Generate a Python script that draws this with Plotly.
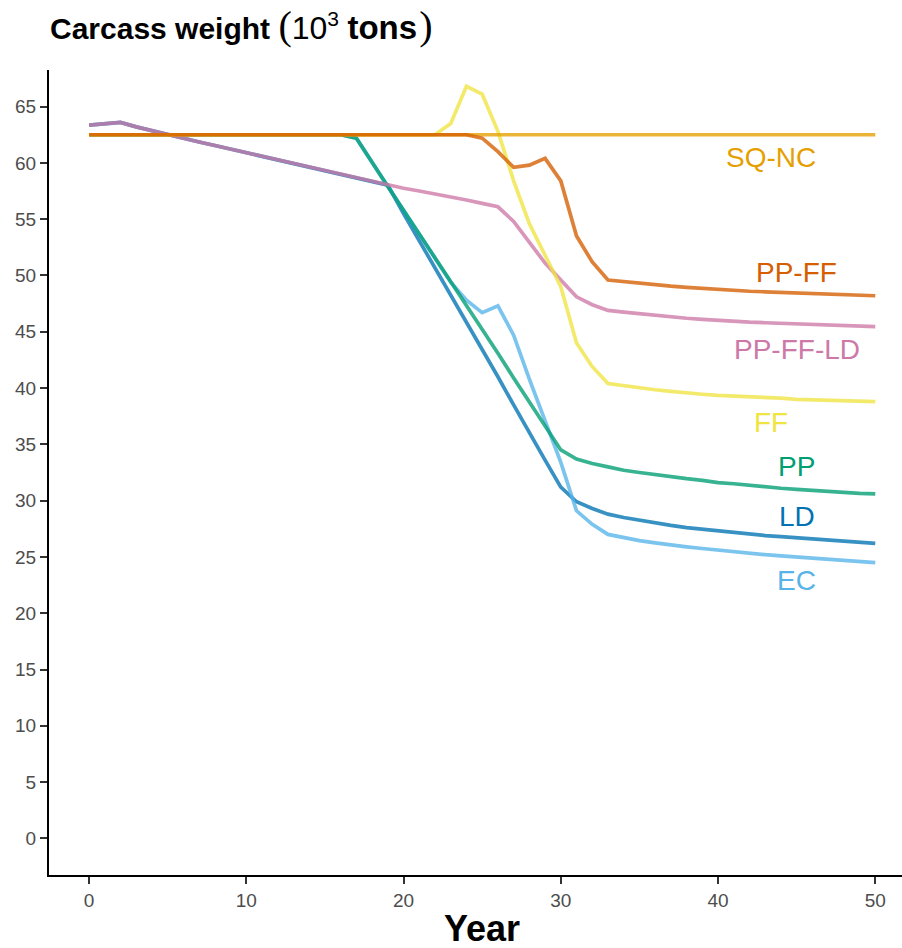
import plotly.graph_objects as go

years = list(range(51))

sq_nc = [62.5] * 51

pp_ff = [62.5] * 25 + [62.2, 61.0, 59.6, 59.8, 60.4, 58.4, 53.5, 51.2, 49.6, 49.45, 49.3, 49.2,
                       49.05, 48.95, 48.85, 48.75, 48.7, 48.6, 48.55, 48.5, 48.45, 48.4, 48.35,
                       48.3, 48.25, 48.2]

ff = [62.5] * 23 + [63.5, 66.8, 66.1, 62.8, 58.4, 54.6, 51.8, 49.0, 44.0, 41.9, 40.4, 40.2, 40.0,
                    39.85, 39.7, 39.55, 39.45, 39.35, 39.3, 39.2, 39.15, 39.1, 39.0, 38.95, 38.9,
                    38.85, 38.8, 38.8]

pp = [62.5] * 17 + [62.2, 60.0, 57.9, 55.8, 53.7, 51.6, 49.4, 47.3, 45.2, 43.1, 40.9, 38.8, 36.7,
                    34.5, 33.7, 33.3, 33.0, 32.7, 32.5, 32.3, 32.1, 31.95, 31.8, 31.6, 31.5, 31.35,
                    31.2, 31.1, 31.0, 30.9, 30.8, 30.75, 30.65, 30.6]

ec = [62.5] * 17 + [62.2, 60.0, 57.9, 55.8, 53.7, 51.6, 49.4, 47.8, 46.7, 47.3, 44.7, 40.8, 37.0,
                    33.4, 29.1, 27.9, 27.0, 26.7, 26.45, 26.25, 26.05, 25.9, 25.75, 25.6, 25.45,
                    25.3, 25.2, 25.1, 25.0, 24.9, 24.8, 24.7, 24.6, 24.5]

ld = [63.35, 63.5, 63.6, 63.2, 62.85, 62.5, 62.18, 61.86, 61.54, 61.22, 60.9, 60.58, 60.26, 59.94,
      59.62, 59.3, 58.98, 58.66, 58.34, 58.02, 55.5, 53.1, 50.7, 48.3, 45.9, 43.5, 41.0, 38.5,
      36.0, 33.6, 31.2, 29.9, 29.3, 28.8, 28.5, 28.25, 28.0, 27.8, 27.6, 27.45, 27.3, 27.15, 27.0,
      26.9, 26.8, 26.7, 26.55, 26.45, 26.4, 26.3, 26.2]

pp_ff_ld = [63.35, 63.5, 63.6, 63.2, 62.85, 62.5, 62.18, 61.86, 61.54, 61.22, 60.9, 60.58, 60.26,
            59.94, 59.62, 59.3, 58.98, 58.66, 58.34, 58.02, 57.75, 57.5, 57.25, 57.0, 56.7, 56.4,
            56.1, 54.8, 53.0, 51.1, 49.6, 48.1, 47.4, 46.9, 46.75, 46.6, 46.45, 46.35, 46.2, 46.1,
            46.0, 45.95, 45.85, 45.8, 45.75, 45.7, 45.65, 45.6, 45.55, 45.5, 45.45]

series_names = ["LD", "EC", "PP", "PP-FF-LD", "FF", "SQ-NC", "PP-FF"]
series_values = [ld, ec, pp, pp_ff_ld, ff, sq_nc, pp_ff]

x_ticks = [0, 10, 20, 30, 40, 50]
y_ticks = list(range(0, 70, 5))

# styling
colors = {
    "SQ-NC": (230, 159, 0),
    "PP-FF": (213, 94, 0),
    "PP-FF-LD": (204, 121, 167),
    "FF": (240, 228, 66),
    "PP": (0, 158, 115),
    "LD": (0, 114, 178),
    "EC": (86, 180, 233),
}
label_pos = {
    "SQ-NC": (43.4, 60.5),
    "PP-FF": (45.0, 50.3),
    "PP-FF-LD": (45.0, 43.4),
    "FF": (43.4, 36.9),
    "PP": (45.0, 33.0),
    "LD": (45.0, 28.6),
    "EC": (45.0, 22.9),
}

FONT = "Liberation Sans"
fig = go.Figure()
for name, vals in zip(series_names, series_values):
    r, g, b = colors[name]
    fig.add_trace(go.Scatter(x=years, y=vals, mode="lines", name=name,
                             line=dict(color=f"rgba({r},{g},{b},0.78)", width=3.7),
                             showlegend=False))

for name in series_names:
    r, g, b = colors[name]
    lx, ly = label_pos[name]
    fig.add_annotation(x=lx, y=ly, xref="x", yref="y", text=name, showarrow=False,
                       font=dict(family=FONT, size=28, color=f"rgb({r},{g},{b})"),
                       xanchor="center", yanchor="middle")

fig.add_annotation(x=25, y=-0.066, xref="x", yref="paper", text="<b>Year</b>", showarrow=False,
                   font=dict(family=FONT, size=36, color="black"),
                   xanchor="center", yanchor="middle")

paren = "<span style='font-family:Liberation Serif;font-size:40px;font-weight:normal'>{}</span>"
title_text = ("<b>Carcass weight</b> " + paren.format("(")
              + "<span style='font-size:32px'>10</span><sup>3</sup> "
              + "<span style='font-size:33px;font-weight:bold'>tons</span>"
              + "<span style='font-size:8px'> </span>" + paren.format(")"))
fig.update_layout(
    width=902, height=948,
    margin=dict(l=49, r=0, t=70, b=73),
    paper_bgcolor="white", plot_bgcolor="white",
    title=dict(text=title_text,
               x=50 / 902, xref="container", xanchor="left",
               y=1 - 28 / 948, yref="container", yanchor="middle",
               font=dict(family=FONT, size=30, color="black")),
    xaxis=dict(range=[-2.55, 51.7], tickvals=x_ticks, ticktext=[str(v) for v in x_ticks],
               showgrid=False, zeroline=False, showline=True, linecolor="black", linewidth=2,
               ticks="outside", ticklen=7, tickwidth=1.5, tickcolor="#333333",
               tickfont=dict(family=FONT, size=19, color="#4D4D4D")),
    yaxis=dict(range=[-3.25, 68.25], tickvals=y_ticks, ticktext=[str(v) for v in y_ticks],
               showgrid=False, zeroline=False, showline=True, linecolor="black", linewidth=2,
               ticks="outside", ticklen=7, tickwidth=1.5, tickcolor="#333333",
               tickfont=dict(family=FONT, size=19, color="#4D4D4D")),
)

fig.write_html("out.html")
